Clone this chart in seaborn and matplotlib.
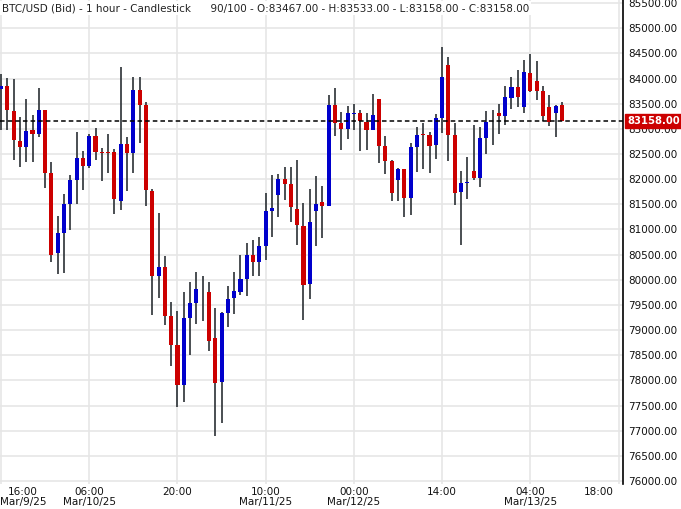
import matplotlib
matplotlib.use("Agg")
import matplotlib.pyplot as plt
import seaborn as sns
import numpy as np
import pandas as pd

opens = [83790, 83850, 83350, 82760, 82640, 82980, 82900, 83370, 82120, 80530,
         80930, 81510, 81985, 82420, 82260, 82860, 82540, 82530, 82540, 81565,
         82700, 82520, 83770, 83470, 81765, 80075, 80255, 79280, 78705, 77910,
         79240, 79540, 79750, 79760, 78845, 77970, 79340, 79640, 79760, 80015,
         80490, 80355, 80670, 81370, 81685, 82000, 81905, 81410, 81070, 79920,
         81370, 81545, 81465, 83470, 83115, 82995, 83300, 83315, 83135, 82975,
         83590, 82660, 82360, 81985, 82200, 81625, 82640, 82890, 82880, 82680,
         83215, 84270, 82880, 81745, 81925, 82160, 82020, 82820, 83140, 83315,
         83255, 83610, 83830, 83435, 84110, 83950, 83750, 83435, 83315, 83467]
closes = [83850, 83370, 82780, 82640, 82960, 82900, 83370, 82120, 80490, 80930,
          81510, 81985, 82420, 82260, 82860, 82540, 82520, 82510, 81605, 82700,
          82520, 83770, 83470, 81785, 80075, 80255, 79280, 78705, 77910, 79240,
          79540, 79820, 79760, 78785, 77950, 79340, 79620, 79780, 80015, 80490,
          80355, 80670, 81370, 81430, 82000, 81905, 81450, 81090, 79900, 81150,
          81510, 81465, 83470, 83115, 82995, 83315, 83315, 83155, 82975, 83275,
          82660, 82360, 81725, 82200, 81625, 82640, 82880, 82870, 82660, 83215,
          84030, 82880, 81725, 81925, 81945, 82020, 82820, 83135, 83130, 83255,
          83630, 83830, 83630, 84130, 83750, 83750, 83255, 83135, 83455, 83158]
highs = [84090, 84010, 83990, 83235, 83590, 83275, 83810, 83370, 82340, 81270,
         81705, 82080, 82940, 82560, 82900, 83015, 82620, 82900, 82600, 84230,
         82840, 84030, 84030, 83530, 81800, 81330, 80475, 79560, 79380, 79760,
         79960, 80155, 80080, 79960, 79440, 79360, 79880, 80155, 80490, 80730,
         80790, 80850, 81725, 82080, 82100, 82240, 82240, 82380, 81525, 81805,
         82060, 81865, 83670, 83810, 83335, 83455, 83495, 83375, 83315, 83700,
         83590, 82860, 82380, 82220, 82200, 82720, 83040, 83115, 82940, 83295,
         84625, 84430, 83115, 82160, 82440, 83075, 83040, 83355, 83375, 83495,
         83850, 84030, 84170, 84370, 84490, 84350, 83850, 83670, 83475, 83533]
lows = [82980, 82980, 82380, 82240, 82340, 82340, 82840, 81825, 80355, 80115,
        80135, 80990, 81510, 81785, 82220, 82380, 81960, 82120, 81310, 81390,
        81765, 82120, 82720, 81465, 79300, 79640, 79100, 78290, 77470, 77570,
        78505, 79120, 79180, 78585, 76895, 77155, 79060, 79320, 79700, 79680,
        80075, 80075, 80390, 80850, 81250, 81585, 81150, 80690, 79200, 79620,
        80670, 80830, 81465, 82860, 82580, 82800, 82975, 82560, 82580, 82975,
        82320, 82100, 81565, 81565, 81250, 81290, 82140, 82200, 82120, 82400,
        82920, 82360, 81485, 80690, 81605, 81980, 81845, 82500, 82680, 82900,
        83075, 83395, 83435, 83315, 83730, 83575, 83155, 83055, 82840, 83158]

tick_idx = [0, 14, 28, 42, 56, 70, 84, 98]
tick_labels = ["16:00\nMar/9/25", "06:00\nMar/10/25", "20:00", "10:00\nMar/11/25",
               "00:00\nMar/12/25", "14:00", "04:00\nMar/13/25", "18:00"]
y_ticks = list(range(76000, 85501, 500))
last_price = 83158
title = "BTC/USD (Bid) - 1 hour - Candlestick      90/100 - O:83467.00 - H:83533.00 - L:83158.00 - C:83158.00"

sns.set_style("white")
plt.rcParams['font.family'] = ['DejaVu Sans']

df = pd.DataFrame({"i": np.arange(len(opens)), "o": opens, "h": highs, "l": lows, "c": closes})
df["up"] = df["c"] >= df["o"]
RED, BLUE = "#cc0000", "#0000cc"
df["col"] = np.where(df["up"], BLUE, RED)

fig = plt.figure(figsize=(6.81, 5.09), dpi=100)
ax = fig.add_axes([0, 25/509, 623/681, 484/509])

ax.vlines(df["i"], df["l"], df["h"], color="#2b3035", lw=1.2, zorder=2)
bot = np.minimum(df["o"], df["c"])
height = np.maximum(np.abs(df["c"] - df["o"]), 15)
ax.bar(df["i"], height, bottom=bot, width=0.65, color=df["col"], zorder=3, linewidth=0)

ax.set_xlim(-0.16, 98.7)
ax.set_ylim(75943, 85560)
ax.set_yticks(y_ticks)
ax.set_yticklabels([f"{v:.2f}" for v in y_ticks])
ax.yaxis.tick_right()
ax.set_xticks(tick_idx)
shown = [""] + tick_labels[1:-1] + [""]
ax.set_xticklabels(shown, linespacing=1.0)
ax.tick_params(axis="both", labelsize=7.5, colors="#111111", length=0, pad=4)
ax.tick_params(axis="x", pad=2)
# edge labels shifted inward as in the reference
for idx, lab, dx in [(tick_idx[0], tick_labels[0], 22), (tick_idx[-1], tick_labels[-1], -20)]:
    ax.annotate(lab, xy=(idx, 0), xycoords=("data", "axes fraction"), xytext=(dx * 0.72, -2),
                textcoords="offset points", ha="center", va="top", fontsize=7.5,
                color="#111111", linespacing=1.0, annotation_clip=False)
ax.grid(True, color="#e6e6e6", lw=1.2, zorder=0)
for s in ["top", "left", "bottom"]:
    ax.spines[s].set_visible(False)
ax.spines["right"].set_color("black")
ax.spines["right"].set_linewidth(1.2)

ax.axhline(last_price, color="black", ls=(0, (3, 2)), lw=1.1, zorder=4)
ax.annotate(f"{last_price:.2f}", xy=(1.0, last_price), xycoords=("axes fraction", "data"),
            xytext=(3, 0), textcoords="offset points", ha="left", va="center",
            fontsize=7.2, color="white", fontweight="bold",
            bbox=dict(boxstyle="square,pad=0.2", fc=RED, ec=RED), annotation_clip=False, zorder=6)

ax.text(0.003, 0.993, title, transform=ax.transAxes, ha="left", va="top", fontsize=7.5,
        color="#222222", bbox=dict(fc="white", ec="none", pad=1.5), zorder=7)

fig.savefig("out.png", dpi=100)
